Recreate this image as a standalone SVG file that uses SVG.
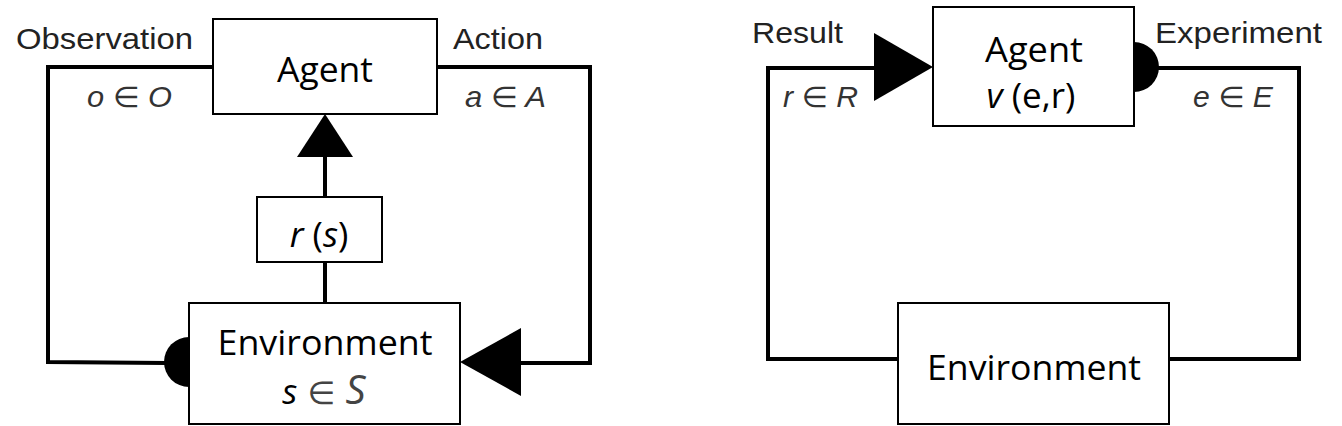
<svg xmlns="http://www.w3.org/2000/svg" width="1342" height="426" viewBox="0 0 1342 426">
<style>
.box{fill:#fff;stroke:#000;stroke-width:2}
.conn{fill:none;stroke:#000;stroke-width:4;stroke-linejoin:miter}
.head{fill:#000;stroke:none}
.node{font-family:"Open Sans","Noto Sans",sans-serif;font-size:35px;fill:#000;text-anchor:middle}
.lab{font-family:"Liberation Sans",Arial,sans-serif;font-size:30px;fill:#222}
.math{font-family:"Liberation Sans","DejaVu Sans",sans-serif;font-size:29px;fill:#333;font-style:italic}
.up{font-style:normal;font-family:"DejaVu Sans",sans-serif}
</style>
<rect width="1342" height="426" fill="#fff"/>
<g id="connectors">
  <path class="conn" d="M213,67 H48 V362 L166,363"/>
  <path class="head" d="M189,337 A25,25 0 0 0 189,387 Z"/>
  <path class="conn" d="M437,67 H590 V363 H519"/>
  <polygon class="head" points="460,362 521,328 521,396"/>
  <path class="conn" d="M325,155 V197 M325,262 V303"/>
  <polygon class="head" points="325,114 297,157 353,157"/>
  <path class="conn" d="M898,359 H768 V68 H876"/>
  <polygon class="head" points="933,67 874,33 874,101"/>
  <path class="head" d="M1134,42 A25,25 0 0 1 1134,92 Z"/>
  <path class="conn" d="M1157,68 H1299 V359 H1169"/>
</g>
<g id="labels">
  <text class="lab" x="16" y="49" textLength="177" lengthAdjust="spacingAndGlyphs">Observation</text>
  <text class="lab" x="453" y="49" textLength="90" lengthAdjust="spacingAndGlyphs">Action</text>
  <text class="math" x="87" y="107" textLength="85" lengthAdjust="spacingAndGlyphs">o <tspan class="up">∈</tspan> O</text>
  <text class="math" x="465" y="107" textLength="81" lengthAdjust="spacingAndGlyphs">a <tspan class="up">∈</tspan> A</text>
  <text class="lab" x="752" y="43" textLength="91" lengthAdjust="spacingAndGlyphs">Result</text>
  <text class="lab" x="1155" y="43" textLength="167" lengthAdjust="spacingAndGlyphs">Experiment</text>
  <text class="math" x="783" y="107" textLength="75" lengthAdjust="spacingAndGlyphs">r <tspan class="up">∈</tspan> R</text>
  <text class="math" x="1193" y="107" textLength="80" lengthAdjust="spacingAndGlyphs">e <tspan class="up">∈</tspan> E</text>
</g>
<g id="agent1">
  <rect class="box" x="213" y="19" width="224" height="95"/>
  <text class="node" x="325" y="82" textLength="96" lengthAdjust="spacingAndGlyphs">Agent</text>
</g>
<g id="reward">
  <rect class="box" x="257" y="197" width="125" height="65"/>
  <text class="node" x="319" y="247"><tspan font-style="italic">r</tspan> (<tspan font-style="italic">s</tspan>)</text>
</g>
<g id="env1">
  <rect class="box" x="189" y="303" width="271" height="121"/>
  <text class="node" x="325" y="355" textLength="215" lengthAdjust="spacingAndGlyphs">Environment</text>
  <text class="node" x="324" y="404"><tspan font-style="italic">s</tspan><tspan fill="#444" font-family="DejaVu Sans,sans-serif" font-size="32"> ∈ </tspan><tspan fill="#444" font-style="italic" font-size="40">S</tspan></text>
</g>
<g id="agent2">
  <rect class="box" x="933" y="7" width="201" height="119"/>
  <text class="node" x="1034" y="62" textLength="98" lengthAdjust="spacingAndGlyphs">Agent</text>
  <text class="node" x="1031" y="108"><tspan font-style="italic">v</tspan> (e,r)</text>
</g>
<g id="env2">
  <rect class="box" x="898" y="303" width="271" height="121"/>
  <text class="node" x="1034" y="380" textLength="214" lengthAdjust="spacingAndGlyphs">Environment</text>
</g>
</svg>
